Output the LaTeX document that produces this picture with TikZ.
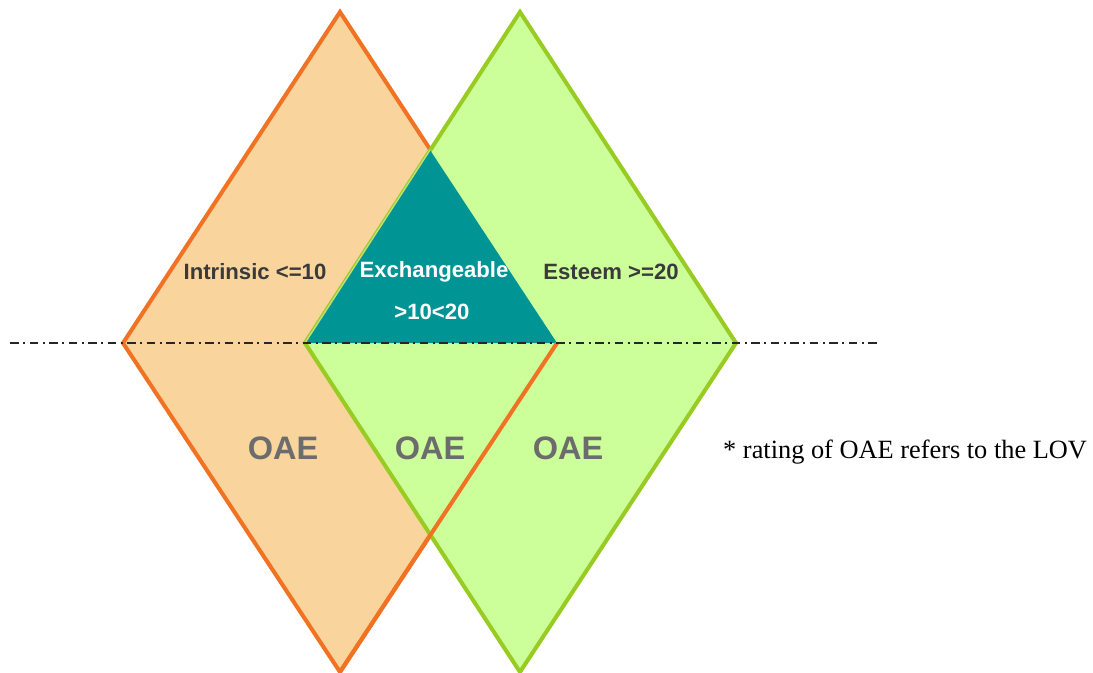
\documentclass[tikz,border=0pt]{standalone}
\usepackage{fontspec}
\setmainfont{Liberation Serif}
\newfontfamily\labelfont{Liberation Sans}
\definecolor{peach}{HTML}{F9D49C}
\definecolor{peachline}{HTML}{F07222}
\definecolor{lime}{HTML}{CCFF99}
\definecolor{limeline}{HTML}{99CC22}
\definecolor{tealfill}{HTML}{009494}
\definecolor{textgray}{HTML}{3A3A3A}
\definecolor{oaegray}{HTML}{6C6C6C}
\tikzset{
  zone/.style={font=\labelfont\bfseries\fontsize{12.6}{14}\selectfont,text=textgray},
  oae/.style={font=\labelfont\bfseries\fontsize{18.5}{21}\selectfont,text=oaegray},
  axisline/.style={black!85,line width=0.7pt,dash pattern=on 5pt off 2.4pt on 1.3pt off 2.4pt}
}
\begin{document}
\begin{tikzpicture}[x=0.02cm,y=-0.02cm]
\useasboundingbox (0,0) rectangle (1093,673);
% intrinsic diamond
\draw[line width=2.3pt,line join=miter,fill=peach,draw=peachline]
  (340,12) -- (557,343) -- (340,672) -- (123,343) -- cycle;
% esteem diamond
\draw[line width=2.3pt,line join=miter,fill=lime,draw=limeline]
  (520,12) -- (736,343) -- (520,672) -- (305,343) -- cycle;
% exchangeable overlap
\fill[tealfill] (430,150) -- (557,343) -- (305,343) -- cycle;
\draw[limeline!60,line width=0.8pt] (305,343) -- (430,150);
\draw[line width=2.3pt,draw=peachline] (557,343) -- (340,672);
% centre line
\draw[axisline] (10,343) -- (880,343);

\node[zone] (intr) at (255,272) {Intrinsic <=10};
\node[zone,text=white] (exch) at (434,272) {Exchangeable};
\node[zone,text=white] (band) at (432,312) {>10<20};
\node[zone] (este) at (611,272) {Esteem >=20};

\node[oae] (oaeA) at (283,448) {OAE};
\node[oae] (oaeB) at (430,448) {OAE};
\node[oae] (oaeC) at (568,448) {OAE};

\node[anchor=west,font=\fontsize{15}{17}\selectfont] (note) at (717,452) {* rating of OAE refers to the LOV};
\end{tikzpicture}
\end{document}
